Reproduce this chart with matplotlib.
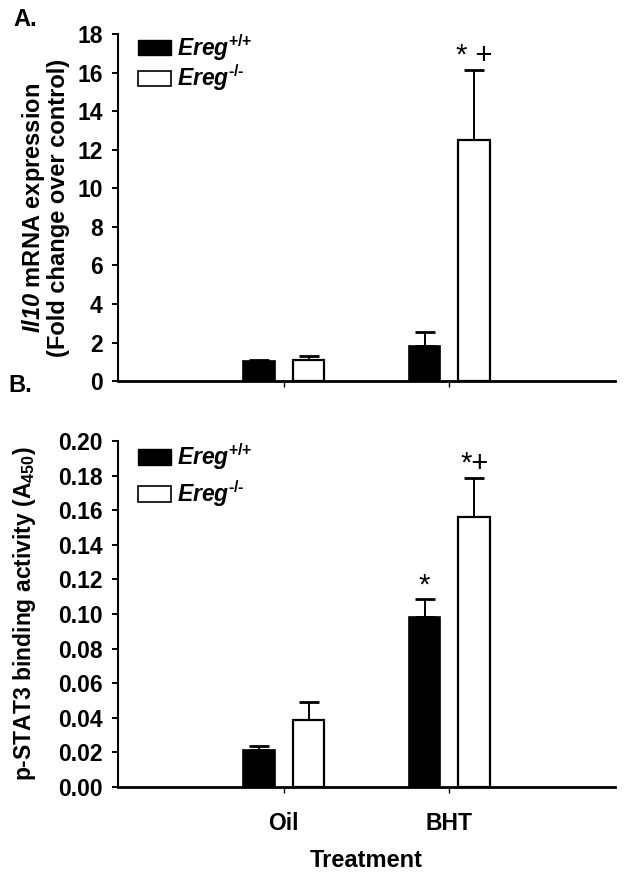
import matplotlib
matplotlib.use('Agg')
import matplotlib.pyplot as plt
import matplotlib.patches as mpatches
import numpy as np

# fonte parecida com Arial negrito
plt.rcParams['font.family'] = 'Liberation Sans'
plt.rcParams['font.weight'] = 'bold'
plt.rcParams['axes.labelweight'] = 'bold'
plt.rcParams['mathtext.fontset'] = 'custom'
plt.rcParams['mathtext.rm'] = 'Liberation Sans:bold'
plt.rcParams['mathtext.it'] = 'Liberation Sans:italic:bold'
plt.rcParams['mathtext.bf'] = 'Liberation Sans:bold'
plt.rcParams['mathtext.sf'] = 'Liberation Sans:italic:bold'  # italico tambem para os digitos

# dados
tratamentos = ['Oil', 'BHT']
genotipos = ['$\\mathsf{Ereg}^{\\text{+/+}}$', '$\\mathsf{Ereg}^{\\text{-/-}}$']

il10_wt = [1.05, 1.83]
il10_wt_err = [0.06, 0.70]
il10_ko = [1.08, 12.5]
il10_ko_err = [0.24, 3.65]
il10_sig_wt = ['', '']
il10_sig_ko = ['', '* +']

stat3_wt = [0.0215, 0.098]
stat3_wt_err = [0.002, 0.0105]
stat3_ko = [0.0387, 0.156]
stat3_ko_err = [0.0103, 0.0225]
stat3_sig_wt = ['', '*']
stat3_sig_ko = ['', '*+']

yticks_a = np.arange(0, 19, 2)
yticks_b = np.arange(0, 0.201, 0.02)

fig = plt.figure(figsize=(6.26, 8.74), dpi=100)

ax_a = fig.add_axes([0.1885, 0.564, 0.794, 0.397])
ax_b = fig.add_axes([0.1885, 0.0995, 0.794, 0.396])

x = np.arange(1, len(tratamentos) + 1)
desloc = 0.15
larg = 0.19


def painel(ax, wt, wt_err, ko, ko_err, sig_wt, sig_ko, yticks, fmt):
    ax.bar(x - desloc, wt, larg, color='black', edgecolor='black', linewidth=1.2, zorder=2)
    ax.bar(x + desloc, ko, larg, color='white', edgecolor='black', linewidth=1.6, zorder=2)
    ax.errorbar(x - desloc, wt, yerr=[np.zeros(len(wt)), wt_err], fmt='none',
                ecolor='black', elinewidth=1.4, capsize=7, capthick=2, zorder=1)
    ax.errorbar(x + desloc, ko, yerr=[np.zeros(len(ko)), ko_err], fmt='none',
                ecolor='black', elinewidth=1.4, capsize=7, capthick=2, zorder=1)
    # asteriscos de significancia
    for xi, v, e, s in zip(x - desloc, wt, wt_err, sig_wt):
        if s:
            ax.text(xi, v + e, s, ha='center', va='bottom', fontsize=21, fontweight='normal')
    for xi, v, e, s in zip(x + desloc, ko, ko_err, sig_ko):
        if s:
            ax.text(xi, v + e, s, ha='center', va='bottom', fontsize=21, fontweight='normal')

    ax.set_xlim(0, 3)
    ax.set_ylim(yticks[0], yticks[-1])
    ax.set_yticks(yticks)
    ax.set_yticklabels([fmt.format(t) for t in yticks])
    ax.set_xticks(x)
    ax.spines['top'].set_visible(False)
    ax.spines['right'].set_visible(False)
    ax.spines['left'].set_linewidth(1.5)
    ax.spines['bottom'].set_linewidth(2)
    ax.tick_params(axis='y', direction='out', length=4, width=1.4, pad=7, labelsize=16.5)
    ax.tick_params(axis='x', direction='out', length=4, width=1.0, pad=14, labelsize=16.5)


painel(ax_a, il10_wt, il10_wt_err, il10_ko, il10_ko_err, il10_sig_wt, il10_sig_ko,
       yticks_a, '{:.0f}')
painel(ax_b, stat3_wt, stat3_wt_err, stat3_ko, stat3_ko_err, stat3_sig_wt, stat3_sig_ko,
       yticks_b, '{:.2f}')

ax_a.set_xticklabels([])
ax_b.set_xticklabels(tratamentos)
ax_b.set_xlabel('Treatment', fontsize=17, labelpad=10)

ax_a.set_ylabel('$\\mathsf{Il10}$ mRNA expression\n(Fold change over control)', fontsize=17, linespacing=1.0)
ax_a.yaxis.set_label_coords(-0.097, 0.5)
ax_b.set_ylabel('p-STAT3 binding activity (A$_{450}$)', fontsize=16.5)
ax_b.yaxis.set_label_coords(-0.161, 0.5)

# legendas
for ax, esp, topo in [(ax_a, 0.0, 1.006), (ax_b, 0.28, 0.999)]:
    h_wt = mpatches.Patch(facecolor='black', edgecolor='black', label=genotipos[0])
    h_ko = mpatches.Patch(facecolor='white', edgecolor='black', linewidth=1.2, label=genotipos[1])
    ax.legend(handles=[h_wt, h_ko], loc='upper left', bbox_to_anchor=(0.04, topo),
              frameon=False, fontsize=16.5, handlelength=1.45, handleheight=0.66,
              handletextpad=0.25, labelspacing=esp, borderpad=0, borderaxespad=0)

fig.text(25 / 626, 1 - 20 / 874, 'A.', ha='center', va='center', fontsize=17)
fig.text(20 / 626, 1 - 386 / 874, 'B.', ha='center', va='center', fontsize=17)

plt.savefig('out.png', dpi=100)
